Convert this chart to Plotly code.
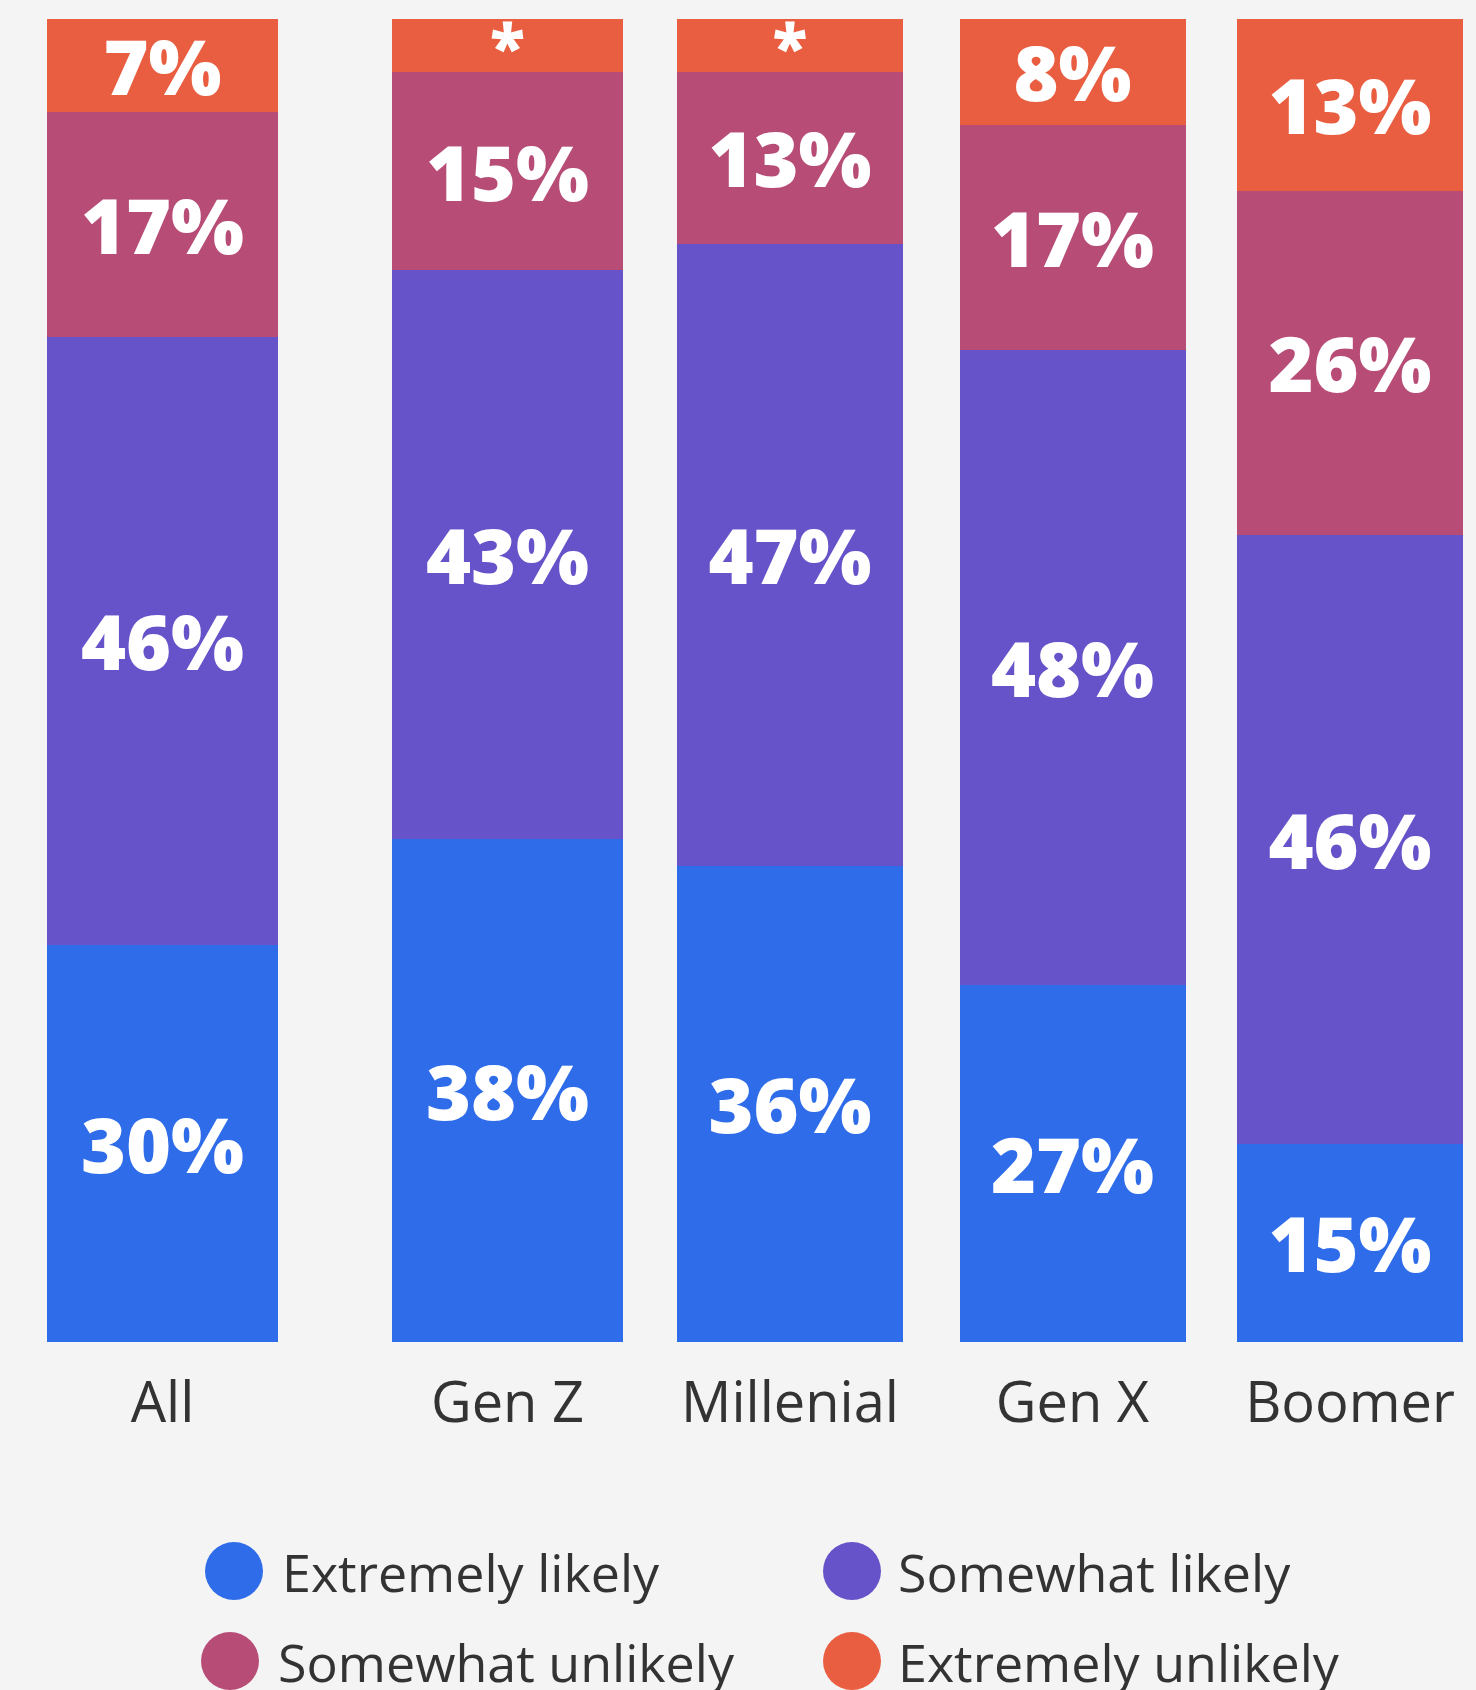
import plotly.graph_objects as go

# Survey responses by generation (percent of respondents)
categories = ["All", "Gen Z", "Millenial", "Gen X", "Boomer"]
series_names = ["Extremely likely", "Somewhat likely", "Somewhat unlikely", "Extremely unlikely"]
extremely_likely = [30, 38, 36, 27, 15]
somewhat_likely = [46, 43, 47, 48, 46]
somewhat_unlikely = [17, 15, 13, 17, 26]
extremely_unlikely = [7, 4, 4, 8, 13]

series_values = [extremely_likely, somewhat_likely, somewhat_unlikely, extremely_unlikely]
colors = ["#2F6CE9", "#6753C9", "#B74C77", "#E95E40"]

# ---- layout constants (pixels) ----
W, H = 1476, 1690
TOP, BOTTOM = 19, 1342
slot_x = [162.5, 507.5, 790, 1072.5, 1350]      # bar centres along the x axis
bar_w = [231, 231, 226, 226, 226]
BG = "#F4F4F4"
TEXT = "#333333"
FONT = "Open Sans"


def bar_label(v):
    # values under 5% are flagged with an asterisk instead of a number
    return "*" if v < 5 else f"{v}%"


fig = go.Figure()
for name, vals, col in zip(series_names, series_values, colors):
    fig.add_trace(go.Bar(
        name=name,
        x=slot_x,
        y=vals,
        width=bar_w,
        marker=dict(color=col, line=dict(width=0)),
        text=[bar_label(v) for v in vals],
        textposition="inside",
        insidetextanchor="middle",
        textangle=0,
        constraintext="none",
        cliponaxis=False,
        textfont=dict(family=FONT, size=[77 if v >= 5 else 64 for v in vals],
                      color="white", weight=800),
        showlegend=False,
        hoverinfo="skip",
    ))

plot_h = BOTTOM - TOP


def py(ypx):
    # pixel row -> paper y
    return (BOTTOM - ypx) / plot_h


# two-column legend below the bars, drawn as circles + labels
legend_rows = [1571, 1661]
legend_circle_x = [[234, 852], [230, 852]]
legend_text_x = [[280, 896], [276, 896]]
shapes, annotations = [], []
for i, (name, col) in enumerate(zip(series_names, colors)):
    r, c = divmod(i, 2)
    shapes.append(dict(
        type="circle", xref="paper", yref="paper",
        xsizemode="pixel", ysizemode="pixel",
        xanchor=legend_circle_x[r][c] / W, yanchor=py(legend_rows[r]),
        x0=-29, x1=29, y0=-29, y1=29,
        fillcolor=col, line=dict(width=0), layer="above",
    ))
    annotations.append(dict(
        text=name, xref="paper", yref="paper",
        x=legend_text_x[r][c] / W, y=py(legend_rows[r]),
        xanchor="left", yanchor="middle", showarrow=False,
        font=dict(family=FONT, size=52, color=TEXT),
    ))

fig.update_layout(
    barmode="stack",
    width=W, height=H,
    margin=dict(l=0, r=0, t=TOP, b=H - BOTTOM, pad=0),
    paper_bgcolor=BG, plot_bgcolor=BG,
    showlegend=False,
    shapes=shapes,
    annotations=annotations,
    xaxis=dict(
        range=[0, W], tickvals=slot_x, ticktext=categories,
        showgrid=False, zeroline=False, showline=False, ticks="",
        tickfont=dict(family=FONT, size=56, color=TEXT),
        ticklabelstandoff=23, fixedrange=True,
    ),
    yaxis=dict(
        range=[0, 100], visible=False, showgrid=False, zeroline=False,
        fixedrange=True,
    ),
)

fig.write_html("out.html")
